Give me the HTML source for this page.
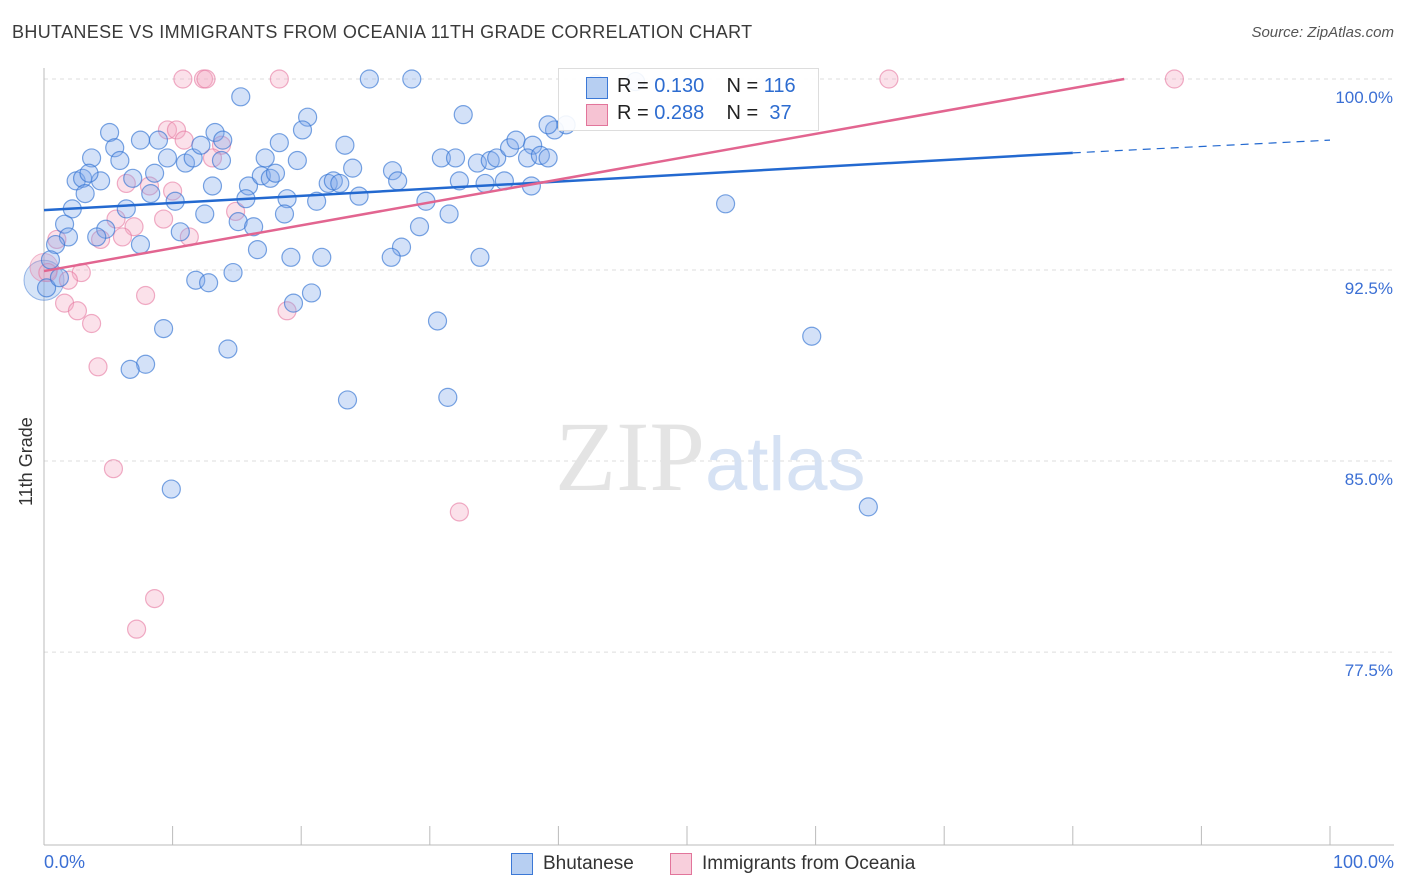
<!DOCTYPE html>
<html><head><meta charset="utf-8"><style>
body{margin:0;background:#fff;font-family:"Liberation Sans",sans-serif;}
#wrap{position:relative;width:1406px;height:892px;overflow:hidden}
.t{position:absolute;white-space:nowrap}
</style></head><body>
<div id="wrap">
<div class="t" style="left:12px;top:22px;font-size:18px;color:#3a3a3a;letter-spacing:0.35px">BHUTANESE VS IMMIGRANTS FROM OCEANIA 11TH GRADE CORRELATION CHART</div>
<div class="t" style="right:12px;top:24px;font-size:15px;color:#555;font-style:italic">Source: ZipAtlas.com</div>
<svg id="svg" width="1406" height="892" style="position:absolute;left:0;top:0"></svg>
</div>
<script>
const yTicks=[100,92.5,85,77.5];
const yTickLabels=["100.0%","92.5%","85.0%","77.5%"];
const blueX=[25.3,28.6,15.3,32.6,42.9,46.0,5.1,7.5,13.3,13.9,18.3,20.5,20.1,23.4,3.7,5.5,5.9,9.6,8.9,11.0,11.6,12.2,13.8,17.2,19.7,24.0,27.1,30.9,32.0,33.7,34.7,35.2,36.2,36.7,38.0,37.6,38.6,39.2,39.7,39.2,40.6,2.5,3.0,4.4,3.5,6.9,8.6,13.1,15.9,16.9,17.6,18.0,22.1,22.5,23.0,27.5,32.3,34.3,35.8,37.9,3.2,8.3,10.2,15.7,18.9,21.2,24.5,29.7,2.2,6.4,12.5,15.1,18.7,31.5,53.0,1.6,16.3,29.2,1.9,4.8,4.1,10.6,7.5,0.9,16.6,27.8,19.2,21.6,27.0,33.9,0.5,0.2,1.2,14.7,11.8,12.8,20.8,19.4,9.3,30.6,14.3,59.7,7.9,6.7,23.6,31.4,9.9,64.1];
const blueY=[100,100,99.3,98.6,99.8,99.9,97.9,97.6,97.9,97.6,97.5,98.5,98.0,97.4,96.9,97.3,96.8,96.9,97.6,96.7,96.9,97.4,96.8,96.9,96.8,96.5,96.4,96.9,96.9,96.7,96.8,96.9,97.3,97.6,97.4,96.9,97.0,96.9,98.0,98.2,98.2,96.0,96.1,96.0,96.3,96.1,96.3,95.8,95.8,96.2,96.1,96.3,95.9,96.0,95.9,96.0,96.0,95.9,96.0,95.8,95.5,95.5,95.2,95.3,95.3,95.2,95.4,95.2,94.9,94.9,94.7,94.4,94.7,94.7,95.1,94.3,94.2,94.2,93.8,94.1,93.8,94.0,93.5,93.5,93.3,93.4,93.0,93.0,93.0,93.0,92.9,91.8,92.2,92.4,92.1,92.0,91.6,91.2,90.2,90.5,89.4,89.9,88.8,88.6,87.4,87.5,83.9,83.2];
const pinkX=[10.8,12.4,12.6,18.3,65.7,87.9,42.9,9.6,10.3,10.9,13.8,13.1,6.4,8.2,10.0,14.9,9.3,5.6,7.0,11.3,6.1,4.4,1.0,0.3,2.9,1.9,1.6,2.6,3.7,7.9,18.9,4.2,5.4,32.3,8.6,7.2];
const pinkY=[100,100,100,100,100,100,98.7,98.0,98.0,97.6,97.4,96.9,95.9,95.8,95.6,94.8,94.5,94.5,94.2,93.8,93.8,93.7,93.7,92.4,92.4,92.1,91.2,90.9,90.4,91.5,90.9,88.7,84.7,83.0,79.6,78.4];
const blueTrend=[94.85,97.1,97.6]; // at x=0, 80, 100
const pinkTrend=[92.46,100]; // at x=0, 84
const X=v=>44+v*12.86, Y=v=>79+(100-v)*25.47;
const svg=document.getElementById('svg');const NS='http://www.w3.org/2000/svg';
function mk(t,a,p){const e=document.createElementNS(NS,t);for(const k in a)e.setAttribute(k,a[k]);(p||svg).appendChild(e);return e;}
yTicks.forEach((v,i)=>{
 const g=mk('line',{x1:44,x2:1394,y1:Y(v),y2:Y(v),stroke:'#ddd','stroke-dasharray':'4,4'});
 
 
 const t=mk('text',{x:1393,y:Y(v)+24,'text-anchor':'end','font-size':17,fill:'#3b6fd4','font-family':'Liberation Sans, sans-serif'});
 t.textContent=yTickLabels[i];
 
 
});
let ax=mk('line',{x1:44,x2:44,y1:68,y2:845,stroke:'#bbb'});


ax=mk('line',{x1:44,x2:1394,y1:845,y2:845,stroke:'#bbb'});


for(let i=0;i<=10;i++){const tk=mk('line',{x1:X(i*10),x2:X(i*10),y1:826,y2:845,stroke:'#bbb'});
 
 }
const wm=mk('text',{x:555,y:490,'font-size':100,fill:'#e4e4e4','font-family':'Liberation Serif, serif'});wm.innerHTML='ZIP<tspan fill="#d6e2f4" font-family="Liberation Sans, sans-serif" font-size="76">atlas</tspan>';


function dots(xs,ys,fill,stroke,name){xs.forEach((x,i)=>{const c=mk('circle',{cx:X(x),cy:Y(ys[i]),r:9,fill:fill,stroke:stroke,'stroke-width':1.2});
 
 });}
let big=mk('circle',{cx:44,cy:Y(92.1),r:20,fill:'rgba(120,165,230,0.3)',stroke:'rgba(60,120,210,0.5)'});


big=mk('circle',{cx:44,cy:Y(92.6),r:14,fill:'rgba(240,150,180,0.3)',stroke:'rgba(230,120,160,0.5)'});


dots(pinkX,pinkY,'rgba(244,170,195,0.35)','rgba(230,120,160,0.6)','oceania-point');
dots(blueX,blueY,'rgba(130,170,235,0.35)','rgba(50,115,210,0.65)','bhutanese-point');
let l=mk('line',{x1:X(0),y1:Y(blueTrend[0]),x2:X(80),y2:Y(blueTrend[1]),stroke:'#2369d0','stroke-width':2.5});


l=mk('line',{x1:X(80),y1:Y(blueTrend[1]),x2:X(100),y2:Y(blueTrend[2]),stroke:'#2369d0','stroke-width':1.2,'stroke-dasharray':'8,6'});


l=mk('line',{x1:X(0),y1:Y(pinkTrend[0]),x2:X(84),y2:Y(pinkTrend[1]),stroke:'#e26590','stroke-width':2.5});


</script>
<div class="t" style="left:16px;top:506px;transform:rotate(-90deg);transform-origin:0 0;font-size:18px;color:#333">11th Grade</div>
<div class="t" style="left:44px;top:852px;font-size:18px;color:#3b6fd4">0.0%</div>
<div class="t" style="right:12px;top:852px;font-size:18px;color:#3b6fd4">100.0%</div>
<div style="position:absolute;left:558px;top:68px;width:259px;height:61px;border:1px solid #ddd;background:rgba(255,255,255,0.9);font-size:20px;color:#222">
 <div class="t" style="left:27px;top:8px;width:20px;height:20px;background:#b7cff2;border:1px solid #3b78d6"></div>
 <div class="t" style="left:58px;top:6px">R = <span style="color:#2d6cd0">0.130</span>&nbsp;&nbsp;&nbsp; N = <span style="color:#2d6cd0">116</span></div>
 <div class="t" style="left:27px;top:35px;width:20px;height:20px;background:#f6c3d3;border:1px solid #e2759b"></div>
 <div class="t" style="left:58px;top:33px">R = <span style="color:#2d6cd0">0.288</span>&nbsp;&nbsp;&nbsp; N = &nbsp;<span style="color:#2d6cd0">37</span></div>
</div>
<div class="t" style="left:511px;top:853px;width:20px;height:20px;background:#b7cff2;border:1px solid #3b78d6"></div>
<div class="t" style="left:543px;top:853px;font-size:19px;color:#333">Bhutanese</div>
<div class="t" style="left:670px;top:853px;width:20px;height:20px;background:#f8cfdc;border:1px solid #e2759b"></div>
<div class="t" style="left:702px;top:853px;font-size:19px;color:#333">Immigrants from Oceania</div>
</body></html>
